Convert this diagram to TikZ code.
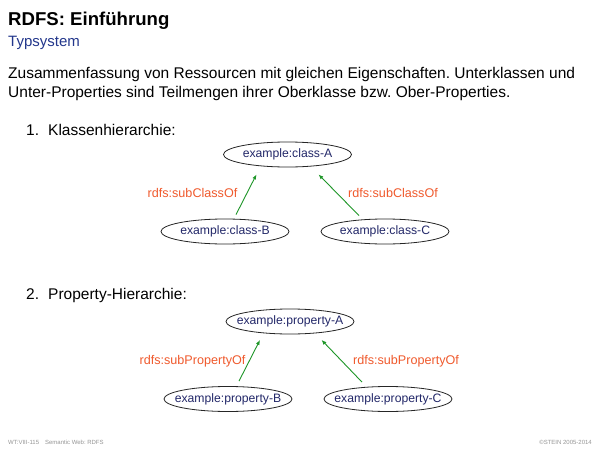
\documentclass[tikz,border=0pt]{standalone}
\usepackage{fontspec}
\setmainfont{Liberation Sans}
\usetikzlibrary{calc,arrows.meta,shapes.geometric}
\definecolor{subblue}{RGB}{35,55,140}
\definecolor{nodeblue}{RGB}{35,40,105}
\definecolor{lblorange}{RGB}{240,90,45}
\definecolor{arrgreen}{RGB}{30,150,40}
\definecolor{footgray}{RGB}{150,150,150}
\tikzset{
  res/.style={draw=black!85, line width=0.8pt, ellipse, minimum width=128pt, minimum height=25pt, inner sep=0pt, text=nodeblue, font=\fontsize{12.2}{14}\selectfont},
  rel/.style={text=lblorange, font=\fontsize{12.6}{14}\selectfont, inner sep=0pt},
  arr/.style={draw=arrgreen, line width=0.9pt, -{Latex[length=5pt,width=4pt]}},
  txt/.style={inner sep=0pt, anchor=base west, font=\fontsize{15.5}{18}\selectfont},
  foot/.style={inner sep=0pt, text=footgray, font=\fontsize{6}{7}\selectfont}
}
\newcommand{\nb}[1]{\makebox[0pt]{#1}}
\begin{document}
\frenchspacing
\begin{tikzpicture}[x=1pt,y=-1pt]
\useasboundingbox[fill=white] (0,0) rectangle (600,450);
\node[txt, font=\fontsize{18.6}{21}\selectfont\bfseries] (title) at (8,25) {RDFS: Einführung};
\node[txt, text=subblue, font=\fontsize{15}{18}\selectfont] (sub) at (8,46) {Typsystem};
\node[txt] (l1) at (8,78) {Zusammenfassung von Ressourcen mit gleichen Eigenschaften. Unterklassen und};
\node[txt] (l2) at (8,97) {Unter-Properties sind Teilmengen ihrer Oberklasse bzw. Ober-Properties.};
\node[txt] (n1) at (26,135) {1.};
\node[txt] (i1) at (48,135) {Klassenhierarchie:};
\node[txt] (n2) at (26,299) {2.};
\node[txt] (i2) at (48,299) {Property-Hierarchie:};

\node[res] (cA) at (287.5,154.5) {\nb{example:class-A}};
\node[res] (cB) at (225,231.5) {\nb{example:class-B}};
\node[res] (cC) at (385,231.5) {\nb{example:class-C}};
\node[rel] (lcB) at (192.5,193) {rdfs:subClassOf};
\node[rel] (lcC) at (393,193) {rdfs:subClassOf};
\draw[arr] ($(cB.north)+(11,-4)$) -- ($(cA.south)+(-31,7)$);
\draw[arr] ($(cC.north)+(-26,-3)$) -- ($(cA.south)+(31,7)$);

\node[res] (pA) at (290,321.5) {\nb{example:property-A}};
\node[res] (pB) at (228,399) {\nb{example:property-B}};
\node[res] (pC) at (388,399) {\nb{example:property-C}};
\node[rel] (lpB) at (192.5,361.5) {rdfs:subPropertyOf};
\node[rel] (lpC) at (406,361.5) {rdfs:subPropertyOf};
\draw[arr] ($(pB.north)+(11,-5)$) -- ($(pA.south)+(-30,5.5)$);
\draw[arr] ($(pC.north)+(-26,-4)$) -- ($(pA.south)+(31.5,5.5)$);

\node[foot, anchor=base west] (f1) at (8,444) {WT:VIII-115\hspace{6pt}Semantic Web: RDFS};
\node[foot, anchor=base east] (f2) at (592,444) {©STEIN 2005-2014};
\end{tikzpicture}
\end{document}
